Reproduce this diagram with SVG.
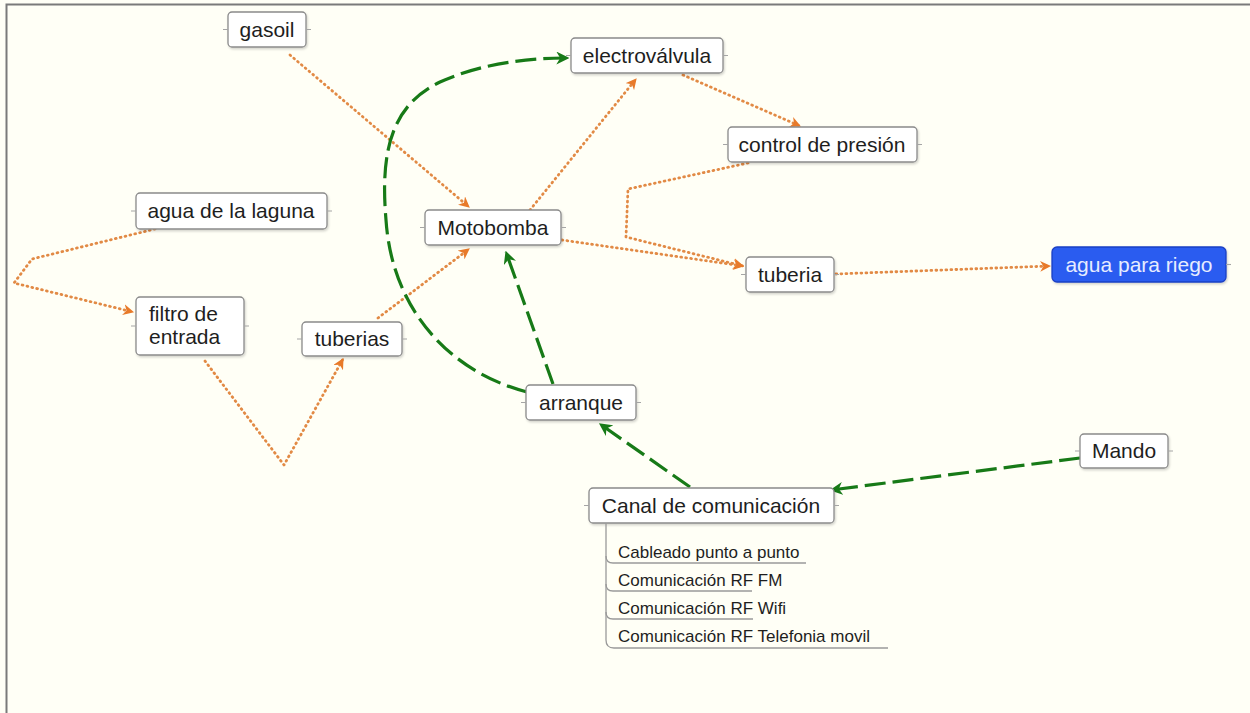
<svg xmlns="http://www.w3.org/2000/svg" width="1250" height="713" viewBox="0 0 1250 713">
  <style>
    .box { fill: #ffffff; stroke: #8a8a8a; stroke-width: 1.3; }
    .lbl { font-family: "Liberation Sans", Arial, sans-serif; font-size: 21px; fill: #1e1e1e; text-anchor: middle; }
    .sub { font-family: "Liberation Sans", Arial, sans-serif; font-size: 17px; fill: #1e1e1e; }
    .handle { stroke: #a5a5a5; stroke-width: 1.1; fill: none; }
    .flow { fill: none; stroke: #e28a45; stroke-width: 2.8; stroke-dasharray: 0.8 4.2; stroke-linecap: round; stroke-linejoin: round; }
    .ctrl { fill: none; stroke: #177a17; stroke-width: 3.2; stroke-dasharray: 21 7; }
    .tree { fill: none; stroke: #9a9a9a; stroke-width: 1.3; }
  </style>
  <defs>
    <filter id="shadow" x="-10%" y="-20%" width="130%" height="150%">
      <feDropShadow dx="1" dy="1.5" stdDeviation="1.2" flood-color="#000" flood-opacity="0.18"/>
    </filter>
    <marker id="arrowOrange" viewBox="0 0 10 10" refX="9" refY="5" markerWidth="11" markerHeight="11" markerUnits="userSpaceOnUse" orient="auto">
      <path d="M0,0 L10,5 L0,10 L3,5 z" fill="#e87a2a"/>
    </marker>
    <marker id="arrowGreen" viewBox="0 0 10 10" refX="9" refY="5" markerWidth="13" markerHeight="13" markerUnits="userSpaceOnUse" orient="auto">
      <path d="M0,0 L10,5 L0,10 L3,5 z" fill="#177a17"/>
    </marker>
  </defs>

  <!-- canvas -->
  <rect x="0" y="0" width="1250" height="713" fill="#fffff6"/>
  <path d="M6.5,713 L6.5,4.5 L1250,4.5" fill="none" stroke="#7a7a7a" stroke-width="2"/>

  <!-- connectors -->
  <g id="connectors">
    <!-- material flow (orange dotted) -->
    <path class="flow" d="M290,55 L469,207" marker-end="url(#arrowOrange)"/>
    <path class="flow" d="M530,210 L636,79" marker-end="url(#arrowOrange)"/>
    <path class="flow" d="M683,75 L800,126" marker-end="url(#arrowOrange)"/>
    <path class="flow" d="M748,163 L628,189 L626,237 L743,266" marker-end="url(#arrowOrange)"/>
    <path class="flow" d="M562,240 L743,266" marker-end="url(#arrowOrange)"/>
    <path class="flow" d="M836,274 L1050,266" marker-end="url(#arrowOrange)"/>
    <path class="flow" d="M155,229 L32,259 L14,283 L133,312" marker-end="url(#arrowOrange)"/>
    <path class="flow" d="M205,361 L284,465 L343,359" marker-end="url(#arrowOrange)"/>
    <path class="flow" d="M378,318 L469,249" marker-end="url(#arrowOrange)"/>
    <!-- control signals (green dashed) -->
    <path class="ctrl" d="M527,392 C450,372 392,310 386,220 C380,150 392,105 440,82 C480,64 525,58 568,58" marker-end="url(#arrowGreen)"/>
    <path class="ctrl" d="M553,384 L506,252" marker-end="url(#arrowGreen)"/>
    <path class="ctrl" d="M690,487 L600,424" marker-end="url(#arrowGreen)"/>
    <path class="ctrl" d="M1080,458 L831,490" marker-end="url(#arrowGreen)"/>
  </g>

  <!-- nodes -->
  <g id="gasoil">
    <rect class="box" x="228" y="12" width="78" height="35" rx="4" filter="url(#shadow)"/>
    <path class="handle" d="M223,29.5 H228 M306,29.5 H311"/>
    <text class="lbl" x="267" y="37">gasoil</text>
  </g>
  <g id="electrovalvula">
    <rect class="box" x="571" y="38" width="152" height="35" rx="4" filter="url(#shadow)"/>
    <path class="handle" d="M566,55.5 H571 M723,55.5 H728"/>
    <text class="lbl" x="647" y="63">electroválvula</text>
  </g>
  <g id="control-presion">
    <rect class="box" x="728" y="127" width="189" height="35" rx="4" filter="url(#shadow)"/>
    <path class="handle" d="M723,144.5 H728 M917,144.5 H922"/>
    <text class="lbl" x="822" y="152">control de presión</text>
  </g>
  <g id="agua-laguna">
    <rect class="box" x="136" y="193" width="191" height="36" rx="4" filter="url(#shadow)"/>
    <path class="handle" d="M131,211 H136 M327,211 H332"/>
    <text class="lbl" x="231" y="218">agua de la laguna</text>
  </g>
  <g id="motobomba">
    <rect class="box" x="425" y="210" width="136" height="35" rx="4" filter="url(#shadow)"/>
    <path class="handle" d="M420,227.5 H425 M561,227.5 H566"/>
    <text class="lbl" x="493" y="235">Motobomba</text>
  </g>
  <g id="tuberia">
    <rect class="box" x="746" y="257" width="88" height="35" rx="4" filter="url(#shadow)"/>
    <path class="handle" d="M741,274.5 H746 M834,274.5 H839"/>
    <text class="lbl" x="790" y="282">tuberia</text>
  </g>
  <g id="agua-riego">
    <rect x="1052" y="247" width="174" height="35" rx="5" fill="#2a5cf0" stroke="#1b40c4" stroke-width="1.3" filter="url(#shadow)"/>
    <path class="handle" d="M1226,264.5 H1231"/>
    <text class="lbl" x="1139" y="272" style="fill:#e6ecff">agua para riego</text>
  </g>
  <g id="filtro-entrada">
    <rect class="box" x="136" y="297" width="108" height="58" rx="4" filter="url(#shadow)"/>
    <path class="handle" d="M131,326 H136 M244,326 H249"/>
    <text class="lbl" x="149" y="321" style="text-anchor:start">filtro de</text>
    <text class="lbl" x="149" y="344" style="text-anchor:start">entrada</text>
  </g>
  <g id="tuberias">
    <rect class="box" x="302" y="322" width="100" height="34" rx="4" filter="url(#shadow)"/>
    <path class="handle" d="M297,339 H302 M402,339 H407"/>
    <text class="lbl" x="352" y="346">tuberias</text>
  </g>
  <g id="arranque">
    <rect class="box" x="526" y="385" width="110" height="35" rx="4" filter="url(#shadow)"/>
    <path class="handle" d="M521,402.5 H526 M636,402.5 H641"/>
    <text class="lbl" x="581" y="410">arranque</text>
  </g>
  <g id="mando">
    <rect class="box" x="1080" y="434" width="88" height="34" rx="4" filter="url(#shadow)"/>
    <path class="handle" d="M1075,451 H1080 M1168,451 H1173"/>
    <text class="lbl" x="1124" y="458">Mando</text>
  </g>
  <g id="canal-comunicacion">
    <rect class="box" x="589" y="488" width="245" height="35" rx="4" filter="url(#shadow)"/>
    <path class="handle" d="M584,505.5 H589 M834,505.5 H839"/>
    <text class="lbl" x="711" y="513">Canal de comunicación</text>
    <!-- sub-topics -->
    <path class="tree" d="M606,523 V640 Q606,648 614,648"/>
    <path class="tree" d="M606,556 Q606,563 613,563 H806"/>
    <path class="tree" d="M606,584 Q606,591 613,591 H752"/>
    <path class="tree" d="M606,612 Q606,619 613,619 H753"/>
    <path class="tree" d="M614,648 H888"/>
    <text class="sub" x="618" y="558">Cableado punto a punto</text>
    <text class="sub" x="618" y="586">Comunicación RF FM</text>
    <text class="sub" x="618" y="614">Comunicación RF Wifi</text>
    <text class="sub" x="618" y="642">Comunicación RF Telefonia movil</text>
  </g>
</svg>
